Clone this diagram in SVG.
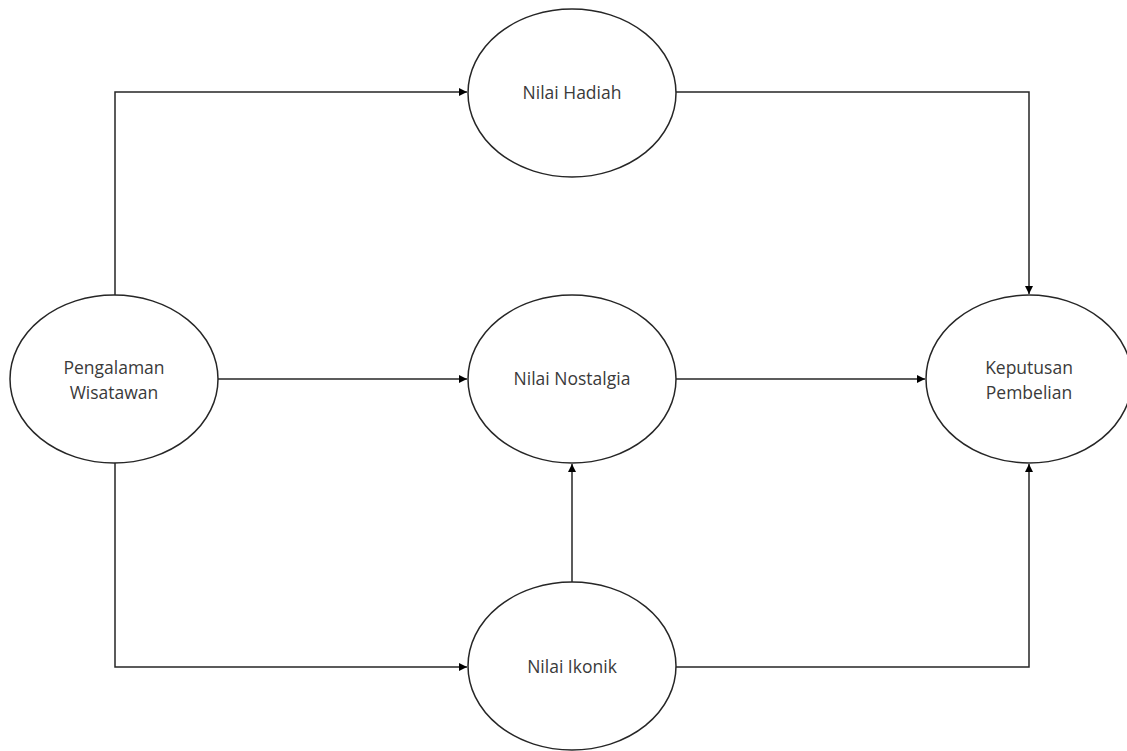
<svg xmlns="http://www.w3.org/2000/svg" width="1127" height="751" viewBox="0 0 1127 751">
<style>
.n ellipse{fill:#fff;stroke:#262626;stroke-width:1.5}
.n text{font-family:"Open Sans","Liberation Sans",sans-serif;font-size:17.5px;fill:#3a3a3a;text-anchor:middle}
.c path{fill:none;stroke:#262626;stroke-width:1.5}
</style>
<defs>
<marker id="a" viewBox="0 0 10 10" refX="10" refY="5" markerWidth="8" markerHeight="8" markerUnits="userSpaceOnUse" orient="auto">
<path d="M0,0 L10,5 L0,10 z" fill="#000"/>
</marker>
</defs>
<rect width="1127" height="751" fill="#fff"/>
<g class="c">
<path d="M115,295 V92 H467" marker-end="url(#a)"/>
<path d="M676,92 H1029 V294" marker-end="url(#a)"/>
<path d="M218,379 H467" marker-end="url(#a)"/>
<path d="M676,379 H925" marker-end="url(#a)"/>
<path d="M115,463 V667 H467" marker-end="url(#a)"/>
<path d="M572,582 V464" marker-end="url(#a)"/>
<path d="M676,667 H1029 V464" marker-end="url(#a)"/>
</g>
<g class="n" id="pengalaman">
<ellipse cx="114" cy="379" rx="104" ry="84"/>
<text x="114" y="374">Pengalaman</text>
<text x="114" y="399">Wisatawan</text>
</g>
<g class="n" id="hadiah">
<ellipse cx="572" cy="93" rx="104" ry="84"/>
<text x="572" y="99">Nilai Hadiah</text>
</g>
<g class="n" id="nostalgia">
<ellipse cx="572" cy="379" rx="104" ry="84"/>
<text x="572" y="385">Nilai Nostalgia</text>
</g>
<g class="n" id="ikonik">
<ellipse cx="572" cy="666" rx="104" ry="84"/>
<text x="572" y="673">Nilai Ikonik</text>
</g>
<g class="n" id="keputusan">
<ellipse cx="1029" cy="379" rx="103" ry="84"/>
<text x="1029" y="374">Keputusan</text>
<text x="1029" y="399">Pembelian</text>
</g>
</svg>
